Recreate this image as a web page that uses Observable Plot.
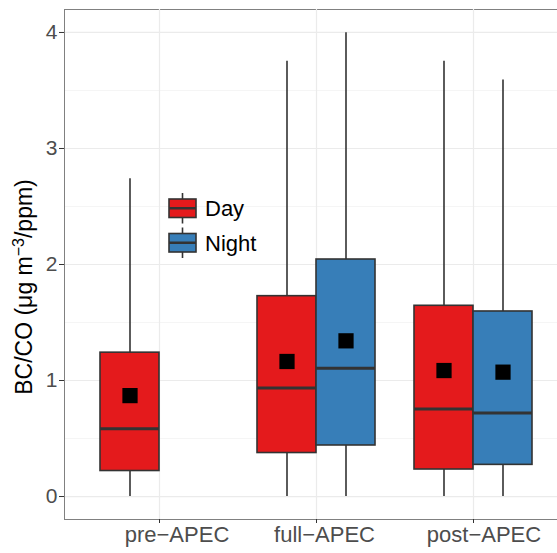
<!DOCTYPE html>
<html><head><meta charset="utf-8">
<script src="https://cdn.jsdelivr.net/npm/d3@7"></script>
<script src="https://cdn.jsdelivr.net/npm/@observablehq/plot@0.6"></script>
<style>
html,body{margin:0;padding:0;background:#fff;overflow:hidden;}
#wrap{position:relative;width:557px;height:553px;overflow:hidden;font-family:"Liberation Sans",Arial,sans-serif;}
#wrap svg{position:absolute;left:0;top:0;max-width:none !important;width:567px !important;height:553px !important;}
</style></head><body><div id="wrap"></div>
<script>
// ---- data ----
const periods = ["pre-APEC", "full-APEC", "post-APEC"];
const periodLabels = ["pre\u2212APEC", "full\u2212APEC", "post\u2212APEC"];
const groups = ["Day", "Night"];
const groupColors = ["#E41A1C", "#377EB8"];
const boxPeriod = ["pre-APEC", "full-APEC", "full-APEC", "post-APEC", "post-APEC"];
const boxGroup = ["Day", "Day", "Night", "Day", "Night"];
const whiskerLow = [0, 0, 0, 0, 0];
const q1 = [0.22, 0.375, 0.44, 0.233, 0.273];
const median = [0.585, 0.935, 1.105, 0.755, 0.72];
const q3 = [1.24, 1.727, 2.043, 1.644, 1.595];
const whiskerHigh = [2.74, 3.753, 3.997, 3.753, 3.59];
const means = [0.87, 1.164, 1.342, 1.086, 1.072];
const yTicks = [0, 1, 2, 3, 4];
const yMinor = [0.5, 1.5, 2.5, 3.5];
const labelShift = [17.5, 8, 10.5];

const boxes = boxPeriod.map((p, i) => ({
  period: p, group: boxGroup[i], lo: whiskerLow[i], q1: q1[i], med: median[i],
  q3: q3[i], hi: whiskerHigh[i], mean: means[i]
}));

const W = 567, H = 553, ML = 64, MR = 0, MT = 9, MB = 34;
const yDomain = [-0.198, 4.198];
const font = "'Liberation Sans', Arial, sans-serif";

// ---- background: horizontal grid, frame, y axis ----
const bg = Plot.plot({
  width: W, height: H, marginLeft: ML, marginRight: MR, marginTop: MT, marginBottom: MB,
  style: {background: "white", fontFamily: font, fontSize: "21px", color: "#4D4D4D", overflow: "visible", maxWidth: "none"},
  y: {domain: yDomain, axis: null},
  marks: [
    Plot.gridY(yMinor, {stroke: "#F2F2F2", strokeOpacity: 1, strokeWidth: 0.8}),
    Plot.gridY(yTicks, {stroke: "#EBEBEB", strokeOpacity: 1, strokeWidth: 1.2}),
    Plot.frame({stroke: "#808080", strokeWidth: 1}),
    Plot.axisY(yTicks, {tickSize: 5, tickPadding: 2, stroke: "#333", label: null, tickFormat: d3.format("d")})
  ]
});

// y title
const yt = d3.select(bg).append("text")
  .attr("transform", "translate(31.5,287) rotate(-90)")
  .attr("text-anchor", "middle").attr("font-size", 23).attr("fill", "#000")
  .attr("font-family", font);
yt.append("tspan").text("BC/CO (\u03BCg m");
yt.append("tspan").attr("font-size", 16).attr("dy", -8).text("\u22123");
yt.append("tspan").attr("dy", 8).text("/ppm)");

// ---- foreground: vertical grid, boxes, x axis (faceted by period) ----
const fg = Plot.plot({
  width: W, height: H, marginLeft: ML, marginRight: MR, marginTop: MT, marginBottom: MB,
  style: {background: "transparent", fontFamily: font, fontSize: "22px", color: "#4D4D4D", overflow: "visible", maxWidth: "none"},
  fx: {domain: periods, paddingInner: 0.25, paddingOuter: 0.225, axis: null, label: null},
  x: {domain: groups, padding: 0, axis: null},
  y: {domain: yDomain, axis: null},
  color: {domain: groups, range: groupColors},
  marks: [
    Plot.ruleX(periods, {fx: d => d, x: null, stroke: "#EBEBEB", strokeWidth: 1.2}),
    Plot.ruleX(boxes, {fx: "period", x: "group", y1: "lo", y2: "hi", stroke: "#333", strokeWidth: 1.6}),
    Plot.barY(boxes, {fx: "period", x: "group", y1: "q1", y2: "q3", fill: "group", stroke: "#333", strokeWidth: 1.6}),
    Plot.tickY(boxes, {fx: "period", x: "group", y: "med", stroke: "#333", strokeWidth: 3}),
    Plot.dot(boxes, {fx: "period", x: "group", y: "mean", symbol: "square", r: 8.6, fill: "#000", stroke: null}),
    Plot.ruleX(periods, {fx: d => d, x: null, y1: yDomain[0], y2: yDomain[0], insetBottom: -4, stroke: "#333", strokeWidth: 1}),
    ...periods.map((p, i) => Plot.text([p], {
      fx: d => d, text: () => periodLabels[i], frameAnchor: "bottom", lineAnchor: "top",
      dy: 7, dx: labelShift[i], fill: "#4D4D4D", fontSize: 22
    }))
  ]
});

// ---- legend (inside panel) ----
const lg = d3.select(fg).append("g").attr("font-family", font).attr("text-anchor", "start");
groups.forEach((g, i) => {
  const top = 199 + i * 34.5, h = 18.5, cx = 182.5;
  lg.append("line").attr("x1", cx).attr("x2", cx).attr("y1", top - 6).attr("y2", top + h + 6)
    .attr("stroke", "#333").attr("stroke-width", 1.6);
  lg.append("rect").attr("x", 169).attr("y", top).attr("width", 27).attr("height", h)
    .attr("fill", groupColors[i]).attr("stroke", "#333").attr("stroke-width", 1.6);
  lg.append("line").attr("x1", 169).attr("x2", 196).attr("y1", top + h / 2).attr("y2", top + h / 2)
    .attr("stroke", "#333").attr("stroke-width", 2.5);
  lg.append("text").attr("x", 205).attr("y", top + h / 2 + 8).attr("font-size", 22)
    .attr("fill", "#000").text(g);
});

const wrap = document.getElementById("wrap");
wrap.appendChild(bg);
wrap.appendChild(fg);
</script>
</body></html>
